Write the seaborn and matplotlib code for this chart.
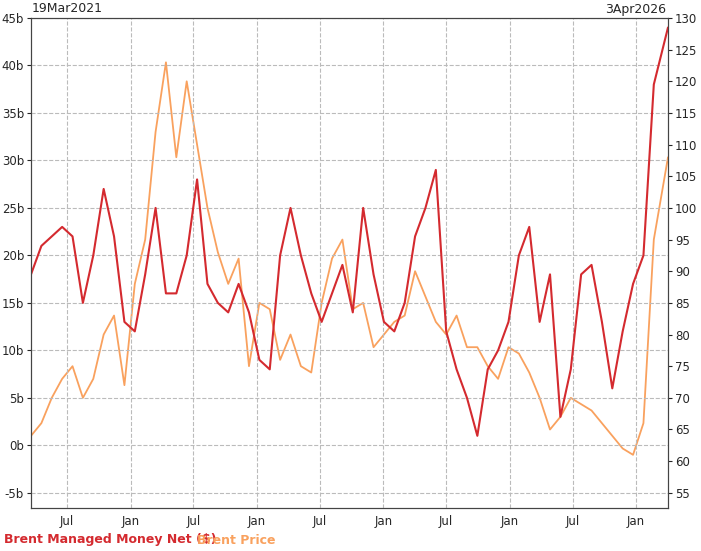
import matplotlib
matplotlib.use("Agg")
import matplotlib.pyplot as plt
import matplotlib.dates as mdates
import seaborn as sns
import pandas as pd

sns.set_style("white")
plt.rcParams['font.family'] = ['DejaVu Sans']

months = pd.date_range("2021-03-19", periods=61, freq="30D").strftime("%Y-%m-%d").tolist()
dates = months + ["2026-04-03"]
managed_money = [18, 21, 22, 23, 22, 15, 20, 27, 22, 13, 12, 18, 25, 16, 16, 20, 28, 17, 15, 14,
                 17, 14, 9, 8, 20, 25, 20, 16, 13, 16, 19, 14, 25, 18, 13, 12, 15, 22, 25, 29,
                 12, 8, 5, 1, 8, 10, 13, 20, 23, 13, 18, 3, 8, 18, 19, 13, 6, 12, 17, 20, 38, 44]
brent = [64, 66, 70, 73, 75, 70, 73, 80, 83, 72, 88, 95, 112, 123, 108, 120, 110, 100, 93, 88,
         92, 75, 85, 84, 76, 80, 75, 74, 85, 92, 95, 84, 85, 78, 80, 82, 83, 90, 86, 82,
         80, 83, 78, 78, 75, 73, 78, 77, 74, 70, 65, 67, 70, 69, 68, 66, 64, 62, 61, 66, 95, 108]

df = pd.DataFrame({"date": pd.to_datetime(dates), "mm": managed_money, "brent": brent})
red, orange = "#d42a2f", "#f9a15e"

fig = plt.figure(figsize=(7.01, 5.51), dpi=100)
ax = fig.add_axes([31/701, 43/551, 637/701, 490/551])
ax2 = ax.twinx()
sns.lineplot(data=df, x="date", y="brent", ax=ax2, color=orange, lw=1.3)
sns.lineplot(data=df, x="date", y="mm", ax=ax, color=red, lw=1.5)
ax.set_zorder(ax2.get_zorder() + 1); ax.patch.set_visible(False)

ax.set_xlim(pd.Timestamp("2021-03-19"), pd.Timestamp("2026-04-03"))
ax.set_ylim(-6.6, 45)
ax2.set_ylim(52.6, 130)
ax.set_yticks(range(-5, 50, 5))
ax.set_yticklabels([f"{v}b" for v in range(-5, 50, 5)])
ax2.set_yticks(range(55, 135, 5))
ax.xaxis.set_major_locator(mdates.MonthLocator(bymonth=[1, 7]))
ax.xaxis.set_major_formatter(mdates.DateFormatter("%b"))
ax.grid(True, color="#bbbbbb", ls="--", lw=0.8)
for a in (ax, ax2):
    a.set_xlabel(""); a.set_ylabel("")
    a.tick_params(labelsize=8.5, length=3, pad=2)
    for s in a.spines.values():
        s.set_color("#444444")
fig.text(32/701, 1 - 9/551, "19Mar2021", fontsize=9, va="center")
fig.text(666/701, 1 - 9/551, "3Apr2026", fontsize=9, va="center", ha="right")
fig.text(4/701, 1 - 540/551, "Brent Managed Money Net ($)", color=red, fontsize=9,
         fontweight="bold", va="center")
fig.text(197/701, 1 - 540/551, "Brent Price", color=orange, fontsize=9,
         fontweight="bold", va="center")
fig.savefig("out.png", dpi=100)
